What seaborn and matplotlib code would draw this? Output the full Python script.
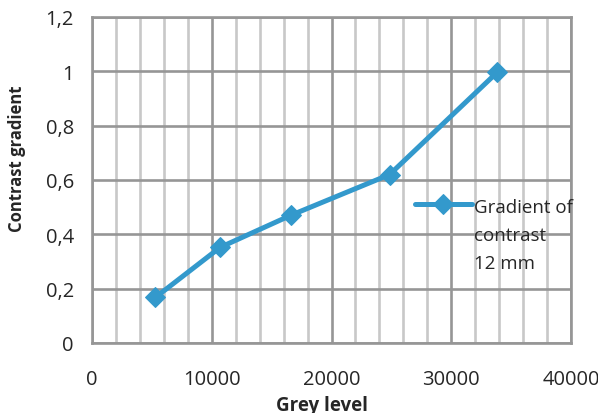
import matplotlib
matplotlib.use("Agg")
import matplotlib.pyplot as plt
import seaborn as sns
import pandas as pd
from matplotlib.ticker import MultipleLocator, FuncFormatter

# datos
grey_level = [5300, 10700, 16600, 24850, 33850]
contrast_gradient = [0.168, 0.352, 0.470, 0.620, 0.997]
serie = "Gradient of\ncontrast\n12 mm"

df = pd.DataFrame({"grey": grey_level, "grad": contrast_gradient})

sns.set_style("white")
plt.rcParams["font.family"] = ["Open Sans", "DejaVu Sans"]

fig = plt.figure(figsize=(5.98, 4.14), dpi=100)
ax = fig.add_axes([92 / 598, 70 / 414, (571 - 92) / 598, (344 - 18) / 414])

blue = "#3399CC"
sns.lineplot(data=df, x="grey", y="grad", ax=ax, color=blue, lw=3.6,
             marker="D", markersize=10, markeredgecolor=blue, label=serie,
             zorder=5)

ax.set_xlim(0, 40000)
ax.set_ylim(0, 1.2)
ax.xaxis.set_major_locator(MultipleLocator(10000))
ax.xaxis.set_minor_locator(MultipleLocator(2000))
ax.yaxis.set_major_locator(MultipleLocator(0.2))

ax.grid(which="minor", axis="x", color="#C8C8C8", lw=1.9)
ax.grid(which="major", axis="both", color="#969696", lw=1.9)
ax.set_axisbelow(True)

for s in ax.spines.values():
    s.set_color("#969696")
    s.set_linewidth(1.9)

ax.tick_params(which="major", length=5, width=1.9, color="#969696",
               labelsize=14.5)
ax.tick_params(axis="y", pad=8)
ax.tick_params(axis="x", pad=14)
ax.tick_params(which="minor", length=0)

ax.yaxis.set_major_formatter(FuncFormatter(
    lambda v, p: ("%g" % round(v, 1)).replace(".", ",")))

ax.set_xlabel("Grey level", fontsize=13.5, fontweight="bold")
ax.set_ylabel("Contrast gradient", fontsize=12, fontweight="bold")
ax.xaxis.set_label_coords(0.48, -0.158)
ax.yaxis.set_label_coords(-0.138, 0.567)

leg = ax.legend(loc="upper left", bbox_to_anchor=(0.675, 0.445), frameon=False,
                fontsize=13.5, handlelength=3.0, handletextpad=0.15,
                borderaxespad=0, borderpad=0)
for t in leg.get_texts():
    t.set_linespacing(1.72)
# alinear el símbolo con la primera línea del texto
for col in leg._legend_handle_box.get_children():
    for row in col.get_children():
        row.align = "top"

fig.savefig("out.png", dpi=100)
